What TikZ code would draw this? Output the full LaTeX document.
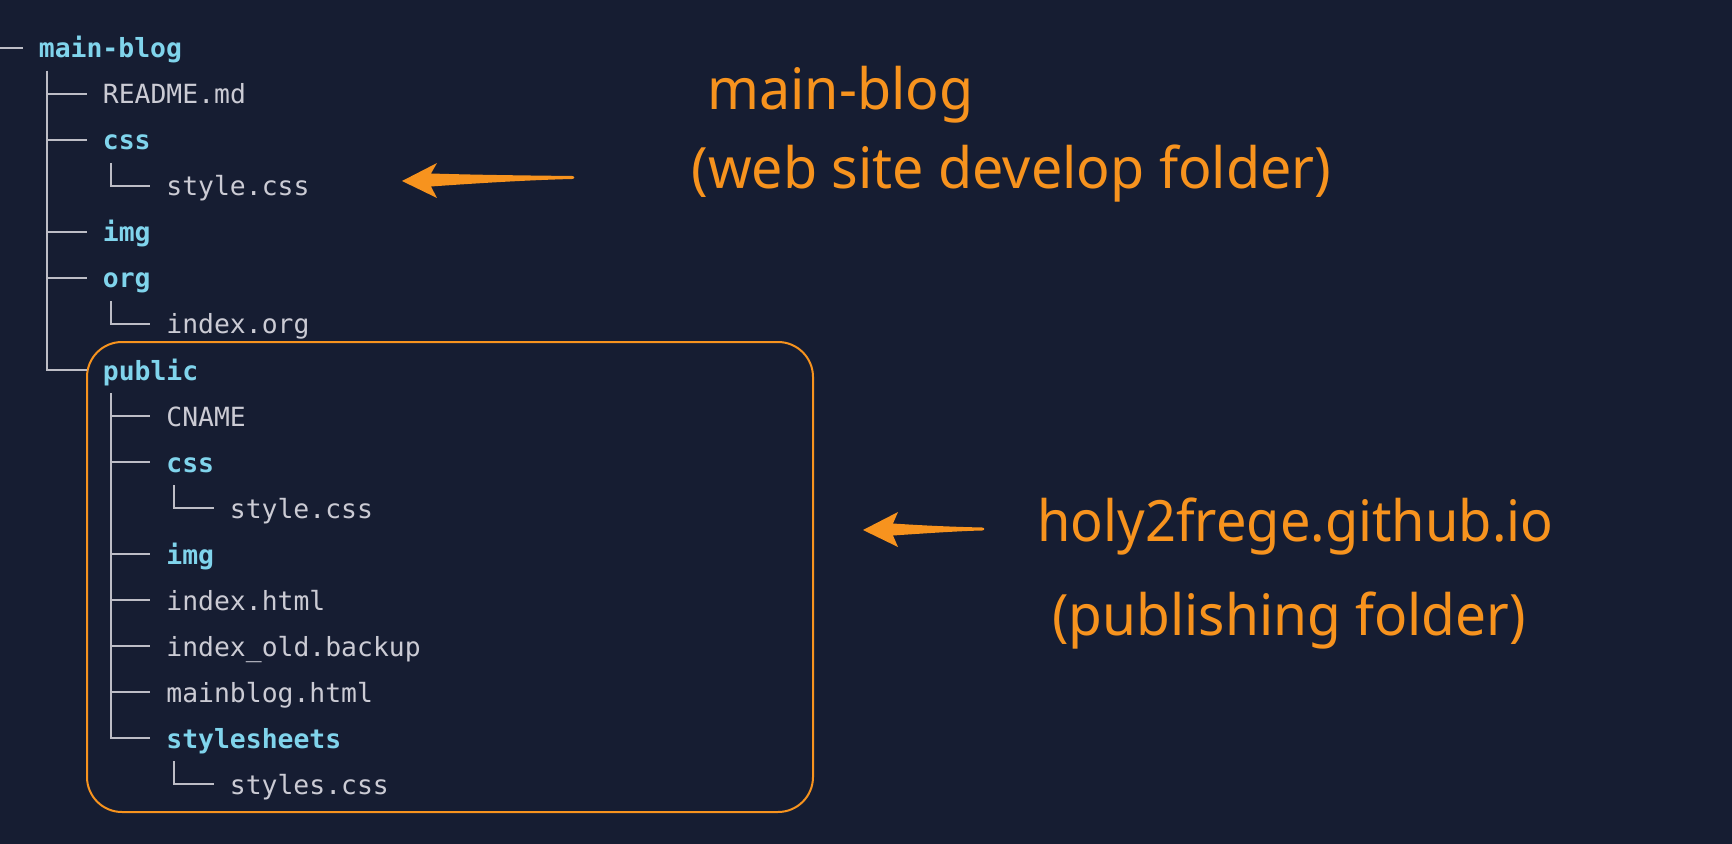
\documentclass[tikz,border=0pt]{standalone}
\usepackage{fontspec}
\setmonofont{DejaVu Sans Mono}
\newfontfamily\annotfontA[FakeStretch=0.975]{Noto Sans}
\newfontfamily\annotfontB[FakeStretch=0.95]{Noto Sans}
\newfontfamily\annotfontC[FakeStretch=0.965]{Noto Sans}
\usetikzlibrary{calc}
\definecolor{bg}{HTML}{161D32}
\definecolor{dircol}{HTML}{80D4EC}
\definecolor{filecol}{HTML}{CBCBD4}
\definecolor{linecol}{HTML}{BDBDC6}
\definecolor{orng}{HTML}{F7931E}
\begin{document}
\begin{tikzpicture}[x=0.5pt,y=-0.5pt,
  dir/.style={anchor=base west, inner sep=0pt, text=dircol, font=\fontsize{13.2pt}{15pt}\selectfont\ttfamily\bfseries},
  file/.style={anchor=base west, inner sep=0pt, text=filecol, font=\fontsize{13.2pt}{15pt}\selectfont\ttfamily},
  treeln/.style={draw=linecol, line width=1pt},
  note/.style={anchor=base west, inner sep=0pt, text=orng},
  pointer/.style={fill=orng}]
\fill[bg] (0,0) rectangle (1732,844);
\useasboundingbox (0,0) rectangle (1732,844);

% publishing box
\node[draw=orng, line width=1pt, rounded corners=17.5pt, minimum width=363pt, minimum height=235pt, inner sep=0pt] (pubbox) at (450,577) {};

% tree nodes
\node[dir]  (root)         at (38.5,58)   {main-blog};
\node[file] (readme)       at (102.5,104) {README.md};
\node[dir]  (css1)         at (102.5,150) {css};
\node[file] (style1)       at (166,196)   {style.css};
\node[dir]  (img1)         at (102.5,242) {img};
\node[dir]  (org1)         at (102.5,288) {org};
\node[file] (indexorg)     at (166,334)   {index.org};
\node[dir]  (public)       at (102.5,380) {public};
\node[file] (cname)        at (166,426)   {CNAME};
\node[dir]  (css2)         at (166,472)   {css};
\node[file] (style2)       at (229.5,518) {style.css};
\node[dir]  (img2)         at (166,564)   {img};
\node[file] (indexhtml)    at (166,610)   {index.html};
\node[file] (indexold)     at (166,656)   {index\_old.backup};
\node[file] (mainbloghtml) at (166,702)   {mainblog.html};
\node[dir]  (stylesheets)  at (166,748)   {stylesheets};
\node[file] (stylescss)    at (229.5,794) {styles.css};

% tree connectors
\coordinate (lead) at (0,48);
\draw[treeln] (lead) -- ($(root.base west)+(-16,-10)$);
\foreach \p/\c in {root/readme, root/css1, root/img1, root/org1, root/public,
                   css1/style1, org1/indexorg,
                   public/cname, public/css2, public/img2, public/indexhtml, public/indexold, public/mainbloghtml, public/stylesheets,
                   css2/style2, stylesheets/stylescss}{
  \draw[treeln] ($(\p.base west)+(8,13)$) |- ($(\c.base west)+(-16,-10)$);
}

% annotations
\node[note, font=\annotfontA\fontsize{28.5pt}{34pt}\selectfont] (t1) at (707,110)  {main-blog};
\node[note, font=\annotfontA\fontsize{28.5pt}{34pt}\selectfont] (t2) at (691,189)  {(web site develop folder)};
\node[note, font=\annotfontB\fontsize{28.5pt}{34pt}\selectfont] (t3) at (1037,541) {holy2frege.github.io};
\node[note, font=\annotfontC\fontsize{28.5pt}{34pt}\selectfont] (t4) at (1052,635) {(publishing folder)};

% arrows
\fill[pointer] (402,181) -- (437,163) -- (431,173.5)
  .. controls (480,175) and (530,175.5) .. (572,176)
  .. controls (575,176) and (575,179) .. (572,179)
  .. controls (530,180) and (480,183) .. (431,186.5)
  -- (437,198) -- cycle;
\fill[pointer] (863,530) -- (898,512) -- (893,523.5)
  .. controls (930,526) and (960,527) .. (982,527.5)
  .. controls (985,527.5) and (985,530.5) .. (982,530.5)
  .. controls (960,531) and (930,533) .. (893,535.5)
  -- (898,547) -- cycle;
\end{tikzpicture}
\end{document}
